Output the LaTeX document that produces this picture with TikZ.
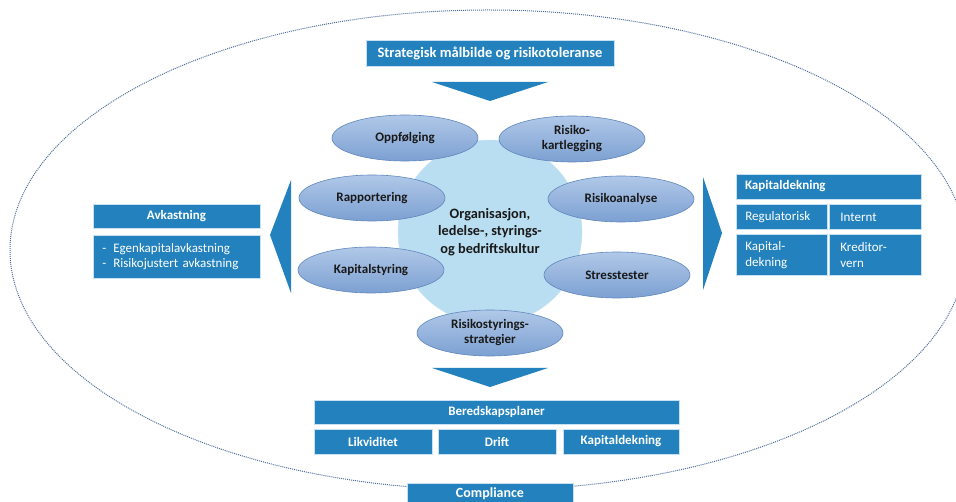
\documentclass[tikz,border=0pt]{standalone}
\usepackage{fontspec}
\setmainfont{Carlito}
\usetikzlibrary{shapes.geometric}
\definecolor{cblue}{RGB}{35,130,190}
\definecolor{cedge}{RGB}{200,225,242}
\definecolor{ctop}{RGB}{176,200,232}
\definecolor{cbot}{RGB}{124,160,210}
\definecolor{cell}{RGB}{95,135,188}
\definecolor{ccirc}{RGB}{186,222,241}
\definecolor{cdot}{RGB}{80,110,155}
\tikzset{
  bbox/.style={rectangle, fill=cblue, draw=cedge, line width=0.8pt, text=white,
    inner sep=0pt, font=\bfseries\fontsize{13}{15}\selectfont},
  lbox/.style={bbox, font=\fontsize{13}{16}\selectfont, align=left, anchor=north west,
    inner xsep=9pt, inner ysep=5pt},
  oval/.style={ellipse, top color=ctop, bottom color=cbot, draw=cell, line width=0.6pt,
    minimum width=146, minimum height=46, inner sep=0pt, align=center,
    font=\bfseries\fontsize{13}{15}\selectfont, text=black!90},
  arrowfill/.style={fill=cblue, draw=none}
}
\begin{document}
\begin{tikzpicture}[x=1pt,y=-1pt]
\useasboundingbox (0,0) rectangle (956,502);
% outer dotted ellipse
\draw[cdot, line width=1pt, dash pattern=on 1pt off 1pt] (488,250) ellipse [x radius=478, y radius=240];
% central circle
\node[circle, fill=ccirc, draw=ccirc!80!white, minimum size=184, inner sep=0pt, align=center,
  font=\bfseries\fontsize{14.3}{17.5}\selectfont, text=black!90] (core) at (490,232)
  {Organisasjon,\\ ledelse-, styrings-\\ og bedriftskultur};
% ellipses
\node[oval] (opp) at (405,138) {Oppfølging};
\node[oval] (kart) at (572,139) {Risiko-\\ kartlegging};
\node[oval] (rap) at (372,198) {Rapportering};
\node[oval] (ana) at (621,199) {Risikoanalyse};
\node[oval] (kap) at (371,270) {Kapitalstyring};
\node[oval] (str) at (617,275) {Stresstester};
\node[oval] (rss) at (490,333) {Risikostyrings-\\ strategier};
% top box and arrow
\node[bbox, minimum width=248, minimum height=26, font=\bfseries\fontsize{14.5}{16}\selectfont] (strat) at (490,53) {Strategisk målbilde og risikotoleranse};
\coordinate (t1) at (432,82); \coordinate (t2) at (548,82); \coordinate (t3) at (490,101);
\fill[arrowfill] (t1) -- (t2) -- (t3) -- cycle;
% bottom arrow
\coordinate (b1) at (432,368); \coordinate (b2) at (548,368); \coordinate (b3) at (490,387);
\fill[arrowfill] (b1) -- (b2) -- (b3) -- cycle;
% left arrow
\coordinate (l1) at (291,180); \coordinate (l2) at (291,293); \coordinate (l3) at (270,235);
\fill[arrowfill] (l1) -- (l2) -- (l3) -- cycle;
% right arrow
\coordinate (r1) at (703,177); \coordinate (r2) at (703,290); \coordinate (r3) at (722,233);
\fill[arrowfill] (r1) -- (r2) -- (r3) -- cycle;
% Avkastning
\node[bbox, minimum width=167, minimum height=24] (avk) at (176.5,216) {Avkastning};
\node[lbox, minimum width=167, minimum height=43, text width=149, inner ysep=5pt] (avkl) at (93,235)
  {-\hspace{7pt}Egenkapitalavkastning\\[-1pt] -\hspace{7pt}Risikojustert avkastning};
% Kapitaldekning
\node[bbox, minimum width=185, minimum height=25, text width=167, align=left] (kdh) at (828.5,186.5) {Kapitaldekning};
\node[lbox, minimum width=91, minimum height=25, text width=73] (reg) at (736,204) {Regulatorisk};
\node[lbox, minimum width=92, minimum height=25, text width=70, inner xsep=11pt] (int) at (829,204) {Internt};
\node[lbox, minimum width=91, minimum height=41, text width=73] (kd) at (736,234) {Kapital-\\ dekning};
\node[lbox, minimum width=92, minimum height=41, text width=70, inner xsep=11pt, inner ysep=3pt] (kv) at (829,234) {Kreditor-\\ vern};
% Beredskapsplaner
\node[bbox, minimum width=365, minimum height=24] (ber) at (496.5,412) {Beredskapsplaner};
\node[bbox, minimum width=118, minimum height=25] (lik) at (373,441.5) {Likviditet};
\node[bbox, minimum width=118, minimum height=25] (dri) at (497,441.5) {Drift};
\node[bbox, minimum width=116, minimum height=25] (kdb) at (621,441.5) {Kapitaldekning};
% Compliance
\node[bbox, minimum width=166, minimum height=21, font=\bfseries\fontsize{14}{16}\selectfont] (comp) at (490,493.5) {Compliance};
\end{tikzpicture}
\end{document}
